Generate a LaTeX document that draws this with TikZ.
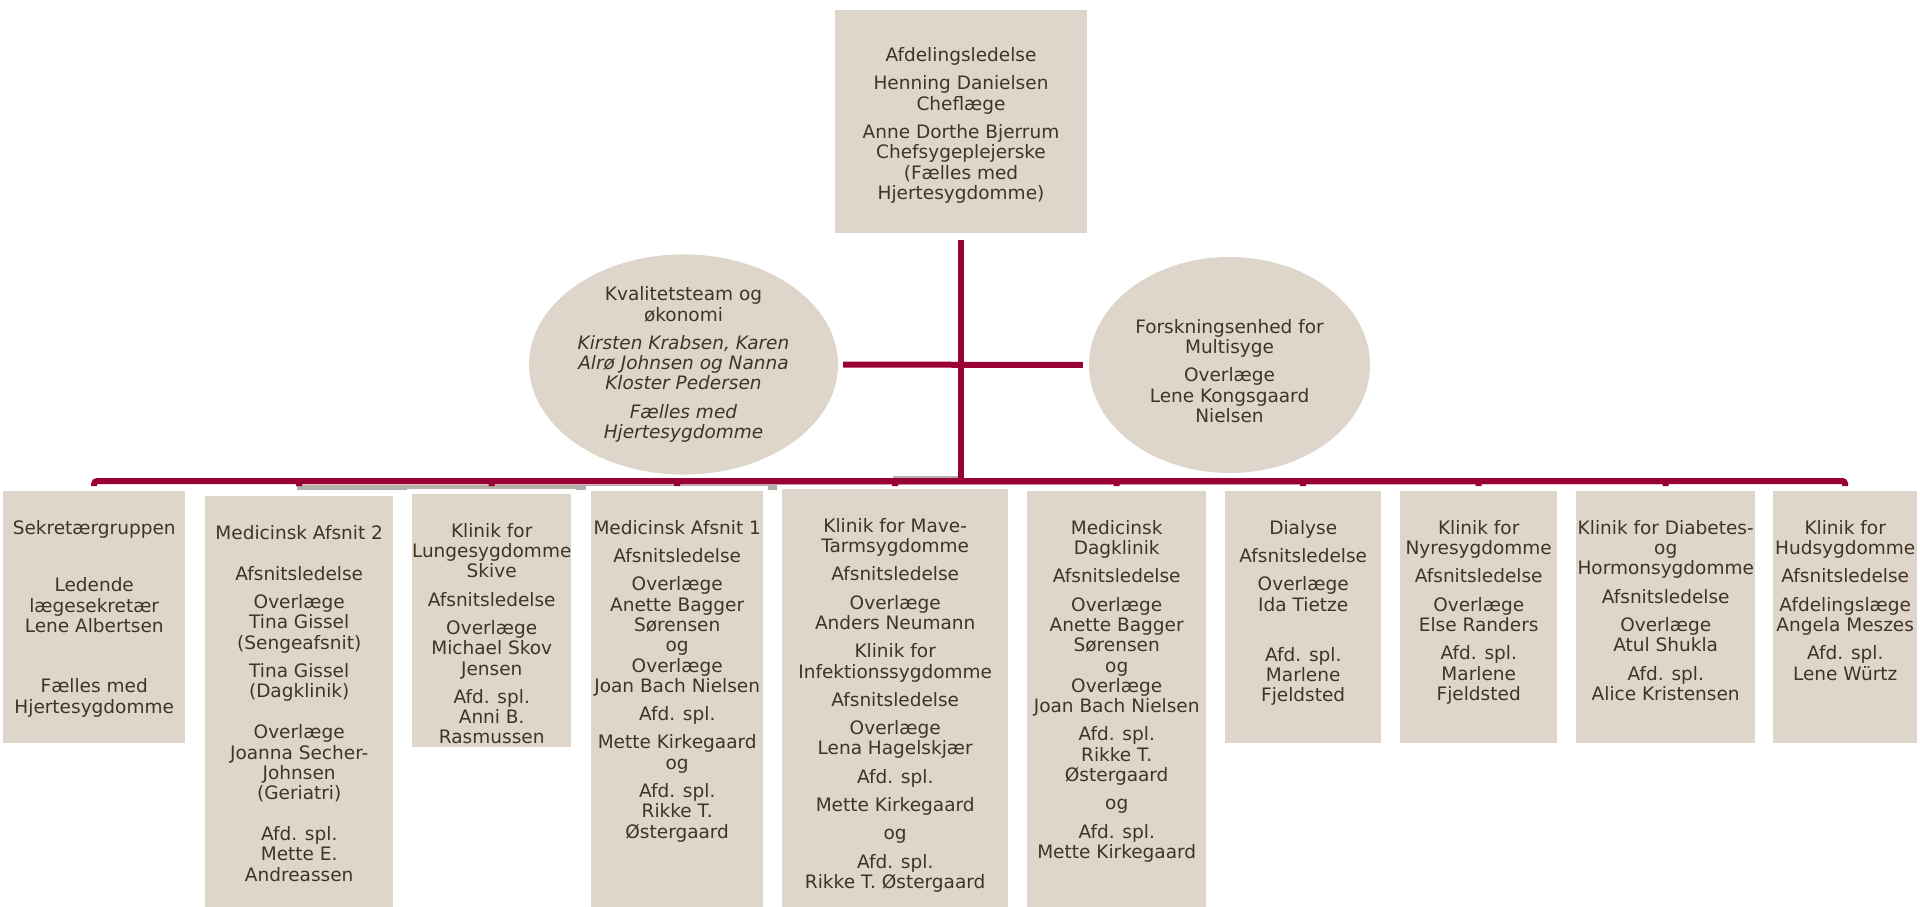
\documentclass[tikz,border=0pt]{standalone}
\usepackage{fontspec}
\setmainfont{DejaVu Sans}
\usetikzlibrary{shapes.geometric}
\definecolor{boxfill}{RGB}{222,214,202}
\definecolor{linkred}{RGB}{153,0,51}
\definecolor{boxtext}{RGB}{64,52,36}
\definecolor{tracegrey}{RGB}{180,175,168}
\tikzstyle{head} = [rectangle, fill=boxfill, text=boxtext, align=center, inner sep=0pt]
\tikzstyle{staff} = [ellipse, fill=boxfill, text=boxtext, align=center, inner sep=0pt]
\tikzstyle{unit} = [rectangle, fill=boxfill, anchor=north west, inner sep=0pt, preaction={draw=white, line width=10pt}]
\tikzstyle{unittext} = [anchor=north, yshift=-29pt, text=boxtext, align=center, inner sep=0pt]
\tikzstyle{link} = [draw=linkred, line width=6pt]
\tikzstyle{greytrace} = [draw=tracegrey, line width=5pt]

\begin{document}
\begin{tikzpicture}[x=1pt,y=-1pt,font=\fontsize{18.5}{20.3}\selectfont]
	\useasboundingbox (0,0) rectangle (1920,907);
	% grey traces of the old bus line, behind the boxes
	\draw[greytrace] (297,487) -- (777,487);
	\draw[greytrace] (893,478) -- (958,478);

	% put the nodes where we want them
	\node[head,minimum width=252pt,minimum height=223pt] (ledelse) at (961,121.5) {\rule{0pt}{22pt}Afdelingsledelse\\[8pt]Henning Danielsen\\Cheflæge\\[8pt]Anne Dorthe Bjerrum\\Chefsygeplejerske\\(Fælles med\\Hjertesygdomme)};
	\node[staff,minimum width=309pt,minimum height=217pt] (kvalitet) at (683.5,364.5) {Kvalitetsteam og\\økonomi\\[8pt]\textit{Kirsten Krabsen, Karen}\\\textit{Alrø Johnsen og Nanna}\\\textit{Kloster Pedersen}\\[8pt]\textit{Fælles med}\\\textit{Hjertesygdomme}};
	\node[staff,minimum width=281pt,minimum height=216pt] (forskning) at (1229.5,365) {\rule{0pt}{26pt}Forskningsenhed for\\Multisyge\\[8pt]Overlæge\\Lene Kongsgaard\\Nielsen};

	\node[unit,minimum width=182pt,minimum height=252pt,label={[unittext]north:{Sekretærgruppen\\[37.4pt]Ledende\\lægesekretær\\Lene Albertsen\\[40pt]Fælles med\\Hjertesygdomme}}] (sekretaer) at (3,491) {};
	\node[unit,minimum width=188pt,minimum height=411pt,label={[unittext]north:{Medicinsk Afsnit 2\\[20.7pt]Afsnitsledelse\\[8pt]Overlæge\\Tina Gissel\\(Sengeafsnit)\\[8pt]Tina Gissel\\(Dagklinik)\\[20.7pt]Overlæge\\Joanna Secher-\\Johnsen\\(Geriatri)\\[20.7pt]Afd. spl.\\Mette E.\\Andreassen}}] (afsnit2) at (205,496) {};
	\node[unit,minimum width=159pt,minimum height=253pt,label={[unittext]north:{Klinik for\\Lungesygdomme\\Skive\\[8pt]Afsnitsledelse\\[8pt]Overlæge\\Michael Skov\\Jensen\\[8pt]Afd. spl.\\Anni B.\\Rasmussen}}] (lunge) at (412,494) {};
	\node[unit,minimum width=172pt,minimum height=416pt,label={[unittext]north:{Medicinsk Afsnit 1\\[8pt]Afsnitsledelse\\[8pt]Overlæge\\Anette Bagger\\Sørensen\\og\\Overlæge\\Joan Bach Nielsen\\[8pt]Afd. spl.\\[8pt]Mette Kirkegaard\\og\\[8pt]Afd. spl.\\Rikke T.\\Østergaard}}] (afsnit1) at (591,491) {};
	\node[unit,minimum width=226pt,minimum height=418pt,label={[unittext]north:{Klinik for Mave-\\Tarmsygdomme\\[8pt]Afsnitsledelse\\[8pt]Overlæge\\Anders Neumann\\[8pt]Klinik for\\Infektionssygdomme\\[8pt]Afsnitsledelse\\[8pt]Overlæge\\Lena Hagelskjær\\[8pt]Afd. spl.\\[8pt]Mette Kirkegaard\\[8pt]og\\[8pt]Afd. spl.\\Rikke T. Østergaard}}] (mave) at (782,489) {};
	\node[unit,minimum width=179pt,minimum height=416pt,label={[unittext]north:{Medicinsk\\Dagklinik\\[8pt]Afsnitsledelse\\[8pt]Overlæge\\Anette Bagger\\Sørensen\\og\\Overlæge\\Joan Bach Nielsen\\[8pt]Afd. spl.\\Rikke T.\\Østergaard\\[8pt]og\\[8pt]Afd. spl.\\Mette Kirkegaard}}] (dagklinik) at (1027,491) {};
	\node[unit,minimum width=156pt,minimum height=252pt,label={[unittext]north:{Dialyse\\[8pt]Afsnitsledelse\\[8pt]Overlæge\\Ida Tietze\\[29.7pt]Afd. spl.\\Marlene\\Fjeldsted}}] (dialyse) at (1225,491) {};
	\node[unit,minimum width=157pt,minimum height=252pt,label={[unittext]north:{Klinik for\\Nyresygdomme\\[8pt]Afsnitsledelse\\[8pt]Overlæge\\Else Randers\\[8pt]Afd. spl.\\Marlene\\Fjeldsted}}] (nyre) at (1400,491) {};
	\node[unit,minimum width=179pt,minimum height=252pt,label={[unittext]north:{Klinik for Diabetes-\\og\\Hormonsygdomme\\[8pt]Afsnitsledelse\\[8pt]Overlæge\\Atul Shukla\\[8pt]Afd. spl.\\Alice Kristensen}}] (diabetes) at (1576,491) {};
	\node[unit,minimum width=144pt,minimum height=252pt,label={[unittext]north:{Klinik for\\Hudsygdomme\\[8pt]Afsnitsledelse\\[8pt]Afdelingslæge\\Angela Meszes\\[8pt]Afd. spl.\\Lene Würtz}}] (hud) at (1773,491) {};

	% draw the lines
	\coordinate (bus) at (961,481);
	\coordinate (tick) at (0,486);
	\draw[link,shorten <=7pt] (ledelse) -- (bus);
	\draw[link,shorten <=5pt,shorten >=6pt] (kvalitet) -- (forskning);
	\foreach \unitname in {sekretaer,afsnit2,lunge,afsnit1,mave,dagklinik,dialyse,nyre,diabetes,hud}
		\draw[link,rounded corners=3pt] (bus) -| (\unitname |- tick);
\end{tikzpicture}
\end{document}
